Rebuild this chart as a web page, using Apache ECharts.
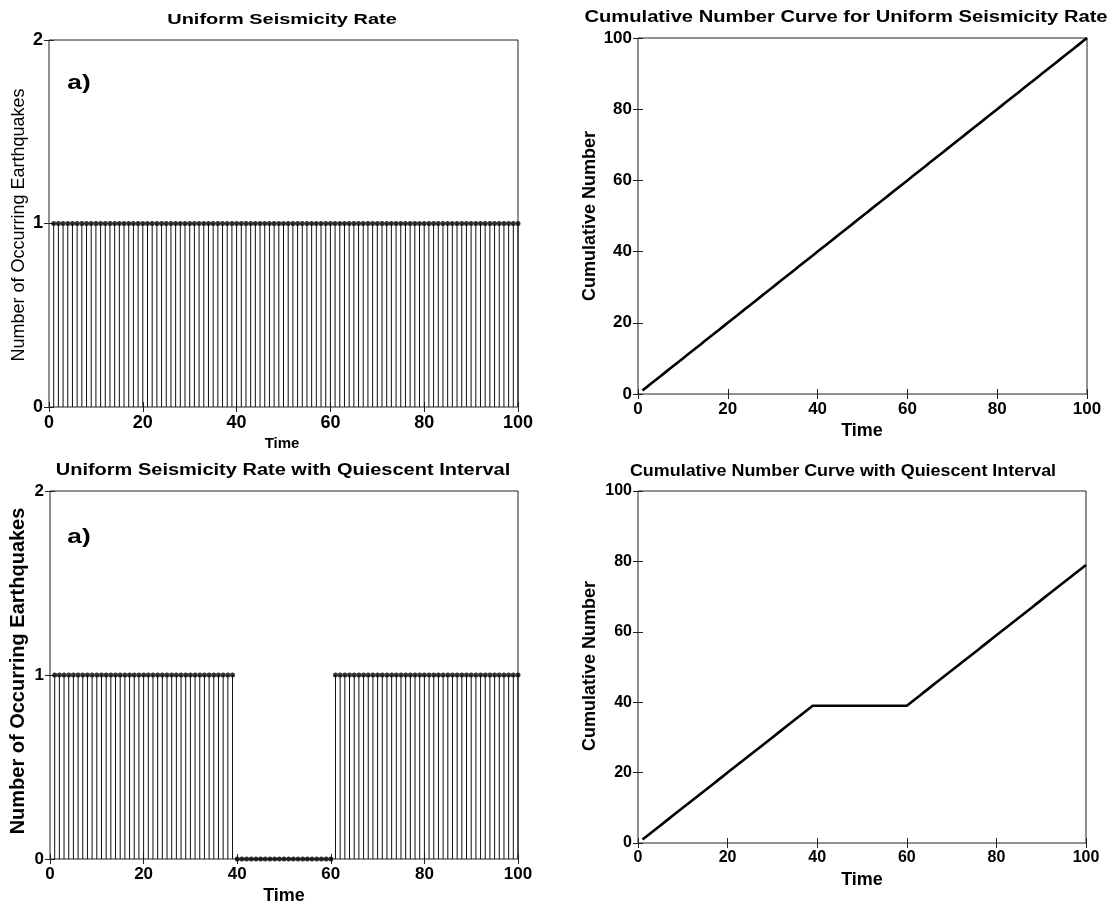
<!DOCTYPE html>
<html>
<head>
<meta charset="utf-8">
<script src="https://cdn.jsdelivr.net/npm/echarts@6/dist/echarts.min.js"></script>
<style>
  html, body { margin: 0; padding: 0; background: #fff; }
  #chart { width: 1116px; height: 907px; }
</style>
</head>
<body>
<div id="chart"></div>
<script>
// Time steps 1..100
const timeSteps = [
  1,2,3,4,5,6,7,8,9,10,11,12,13,14,15,16,17,18,19,20,
  21,22,23,24,25,26,27,28,29,30,31,32,33,34,35,36,37,38,39,40,
  41,42,43,44,45,46,47,48,49,50,51,52,53,54,55,56,57,58,59,60,
  61,62,63,64,65,66,67,68,69,70,71,72,73,74,75,76,77,78,79,80,
  81,82,83,84,85,86,87,88,89,90,91,92,93,94,95,96,97,98,99,100
];

// Earthquakes per time step, uniform rate
const uniformCounts = [
  1,1,1,1,1,1,1,1,1,1,1,1,1,1,1,1,1,1,1,1,
  1,1,1,1,1,1,1,1,1,1,1,1,1,1,1,1,1,1,1,1,
  1,1,1,1,1,1,1,1,1,1,1,1,1,1,1,1,1,1,1,1,
  1,1,1,1,1,1,1,1,1,1,1,1,1,1,1,1,1,1,1,1,
  1,1,1,1,1,1,1,1,1,1,1,1,1,1,1,1,1,1,1,1
];

// Earthquakes per time step, quiescent from t = 40 to t = 60
const quiescentCounts = [
  1,1,1,1,1,1,1,1,1,1,1,1,1,1,1,1,1,1,1,1,
  1,1,1,1,1,1,1,1,1,1,1,1,1,1,1,1,1,1,1,0,
  0,0,0,0,0,0,0,0,0,0,0,0,0,0,0,0,0,0,0,0,
  1,1,1,1,1,1,1,1,1,1,1,1,1,1,1,1,1,1,1,1,
  1,1,1,1,1,1,1,1,1,1,1,1,1,1,1,1,1,1,1,1
];

// Cumulative number of earthquakes, uniform rate
const uniformCumulative = [
  1,2,3,4,5,6,7,8,9,10,11,12,13,14,15,16,17,18,19,20,
  21,22,23,24,25,26,27,28,29,30,31,32,33,34,35,36,37,38,39,40,
  41,42,43,44,45,46,47,48,49,50,51,52,53,54,55,56,57,58,59,60,
  61,62,63,64,65,66,67,68,69,70,71,72,73,74,75,76,77,78,79,80,
  81,82,83,84,85,86,87,88,89,90,91,92,93,94,95,96,97,98,99,100
];

// Cumulative number of earthquakes, with quiescent interval
const quiescentCumulative = [
  1,2,3,4,5,6,7,8,9,10,11,12,13,14,15,16,17,18,19,20,
  21,22,23,24,25,26,27,28,29,30,31,32,33,34,35,36,37,38,39,39,
  39,39,39,39,39,39,39,39,39,39,39,39,39,39,39,39,39,39,39,39,
  40,41,42,43,44,45,46,47,48,49,50,51,52,53,54,55,56,57,58,59,
  60,61,62,63,64,65,66,67,68,69,70,71,72,73,74,75,76,77,78,79
];

const titles = [
  'Uniform Seismicity Rate',
  'Cumulative Number Curve for Uniform Seismicity Rate',
  'Uniform Seismicity Rate with Quiescent Interval',
  'Cumulative Number Curve with Quiescent Interval'
];
const xName = 'Time';
const rateName = 'Number of Occurring Earthquakes';
const cumName = 'Cumulative Number';
const panelTag = 'a)';

const FONT = '"Liberation Sans", Arial, sans-serif';
const pair = (xs, ys) => xs.map((t, i) => [t, ys[i]]);

const grids = [
  { left: 49,  top: 40,  width: 469, height: 367 },
  { left: 638, top: 38,  width: 449, height: 356 },
  { left: 50,  top: 491, width: 468, height: 368 },
  { left: 638, top: 491, width: 448, height: 352 }
].map(g => Object.assign({
  show: true, borderColor: '#222', borderWidth: 1,
  backgroundColor: '#fff', outerBoundsMode: 'none', containLabel: false
}, g));

// per panel: y max, y step, tick label size
const panelAxes = [
  { ymax: 2,   ystep: 1,  fs: 18 },
  { ymax: 100, ystep: 20, fs: 17 },
  { ymax: 2,   ystep: 1,  fs: 17 },
  { ymax: 100, ystep: 20, fs: 16 }
];

const xAxes = [];
const yAxes = [];
panelAxes.forEach((p, i) => {
  const tick = { show: true, inside: true, length: 5, lineStyle: { color: '#222', width: 1 } };
  const lbl = { color: '#000', fontFamily: FONT, fontWeight: 'bold', fontSize: p.fs, hideOverlap: false };
  xAxes.push({
    type: 'value', gridIndex: i, min: 0, max: 100, interval: 20, position: 'bottom',
    axisLine: { show: false }, axisTick: tick, splitLine: { show: false },
    axisLabel: Object.assign({ margin: 7 }, lbl)
  });
  xAxes.push({
    type: 'value', gridIndex: i, min: 0, max: 100, interval: 20, position: 'top',
    axisLine: { show: false }, axisTick: tick, splitLine: { show: false },
    axisLabel: { show: false }
  });
  yAxes.push({
    type: 'value', gridIndex: i, min: 0, max: p.ymax, interval: p.ystep, position: 'left',
    axisLine: { show: false }, axisTick: tick, splitLine: { show: false },
    axisLabel: Object.assign({ margin: 6 }, lbl)
  });
  yAxes.push({
    type: 'value', gridIndex: i, min: 0, max: p.ymax, interval: p.ystep, position: 'right',
    axisLine: { show: false }, axisTick: tick, splitLine: { show: false },
    axisLabel: { show: false }
  });
});

// stem plot: a thin bar per time step plus a dot at its tip
function stems(panel, counts) {
  return [
    {
      type: 'bar', xAxisIndex: panel * 2, yAxisIndex: panel * 2,
      data: pair(timeSteps, counts), barWidth: 1,
      itemStyle: { color: '#111' }, silent: true, animation: false
    },
    {
      type: 'scatter', xAxisIndex: panel * 2, yAxisIndex: panel * 2,
      data: pair(timeSteps, counts), symbol: 'circle', symbolSize: 5,
      itemStyle: { color: '#000' }, silent: true, animation: false, z: 5
    }
  ];
}

function curve(panel, values) {
  return {
    type: 'line', xAxisIndex: panel * 2, yAxisIndex: panel * 2,
    data: pair(timeSteps, values), showSymbol: false, symbol: 'none',
    lineStyle: { color: '#000', width: 2.6 }, silent: true, animation: false, z: 5
  };
}

function label(text, x, y, size, opts) {
  opts = opts || {};
  return {
    type: 'text', x: x, y: y,
    rotation: opts.rot || 0,
    scaleX: opts.sx || 1, scaleY: opts.sy || 1,
    z: 100,
    style: {
      text: text, fill: '#000',
      fontFamily: FONT, fontSize: size,
      fontWeight: opts.normal ? 'normal' : 'bold',
      align: 'center', verticalAlign: 'middle'
    }
  };
}

const graphics = [
  label(titles[0], 282, 20, 15, { sx: 1.33 }),
  label(titles[1], 846, 18, 16, { sx: 1.26 }),
  label(titles[2], 283, 471, 16, { sx: 1.25 }),
  label(titles[3], 843, 472, 16, { sx: 1.12 }),

  label(xName, 282, 444, 15),
  label(xName, 862, 431, 18),
  label(xName, 284, 896, 18),
  label(xName, 862, 880, 18),

  label(rateName, 19, 225, 18, { rot: Math.PI / 2, normal: true }),
  label(cumName, 590, 216, 18, { rot: Math.PI / 2 }),
  label(rateName, 18, 671, 20, { rot: Math.PI / 2 }),
  label(cumName, 590, 666, 18, { rot: Math.PI / 2 }),

  label(panelTag, 79, 83, 21, { sx: 1.25 }),
  label(panelTag, 79, 537, 21, { sx: 1.25 })
];

const chart = echarts.init(document.getElementById('chart'), null, { renderer: 'canvas' });
chart.setOption({
  animation: false,
  backgroundColor: '#fff',
  grid: grids,
  xAxis: xAxes,
  yAxis: yAxes,
  series: [].concat(
    stems(0, uniformCounts),
    [curve(1, uniformCumulative)],
    stems(2, quiescentCounts),
    [curve(3, quiescentCumulative)]
  ),
  graphic: graphics
});
</script>
</body>
</html>
